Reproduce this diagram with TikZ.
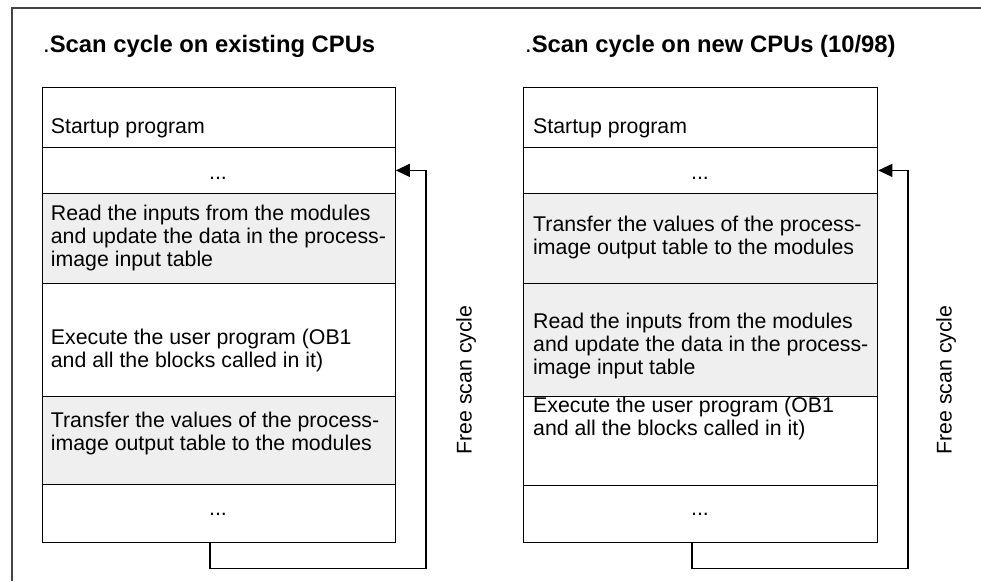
\documentclass[tikz,border=0pt]{standalone}
\usepackage{fontspec}
\setmainfont{Liberation Sans}
\usetikzlibrary{arrows.meta}
\definecolor{boxgray}{HTML}{EFEFEF}
\definecolor{framegray}{HTML}{454545}
\newcommand{\bodyfont}{\fontsize{21.3}{23.3}\selectfont}
\newcommand{\titlefont}{\fontsize{23.8}{27}\selectfont}
\begin{document}
\begin{tikzpicture}[x=1pt,y=-1pt,
  cell/.style={rectangle, draw=black, line width=1.3pt, inner sep=0pt, anchor=north west, fill=white},
  graycell/.style={cell, fill=boxgray},
  txt/.style={anchor=base west, inner sep=0pt, font=\bodyfont},
  dots/.style={anchor=base, inner sep=0pt, font=\bodyfont},
  ttl/.style={anchor=base west, inner sep=0pt, font=\titlefont},
  looppath/.style={draw=black, line width=1.2pt, -{Triangle[length=14pt,width=13pt]}},
  vlabel/.style={rotate=90, inner sep=0pt, font=\bodyfont},
  frame/.style={draw=framegray, line width=1.8pt}]
\useasboundingbox (0,0) rectangle (981,581);
\draw[frame] (981,8) -- (12,8) -- (12,581);

% titles
\node[ttl] (t1) at (43,52) {.\textbf{Scan cycle on existing CPUs}};
\node[ttl] (t2) at (525,52) {.\textbf{Scan cycle on new CPUs (10/98)}};

% left column
\node[cell, minimum width=353pt, minimum height=60pt] (L1) at (41.5,87) {};
\node[cell, minimum width=353pt, minimum height=45.5pt] (L2) at (41.5,147) {};
\node[graycell, minimum width=353pt, minimum height=90.5pt] (L3) at (41.5,192.5) {};
\node[cell, minimum width=353pt, minimum height=113pt] (L4) at (41.5,283) {};
\node[graycell, minimum width=353pt, minimum height=88pt] (L5) at (41.5,396) {};
\node[cell, minimum width=353pt, minimum height=58pt] (L6) at (41.5,484) {};

\node[txt] (l1t) at (50.7,133) {Startup program};
\node[dots] (l2t) at (218,179.5) {...};
\node[txt] (l3t) at (50.7,220) {\parbox[t]{340pt}{\bodyfont Read the inputs from the modules\\and update the data in the process-\\image input table}};
\node[txt] (l4t) at (50.7,344) {\parbox[t]{340pt}{\bodyfont Execute the user program (OB1\\and all the blocks called in it)}};
\node[txt] (l5t) at (50.7,427) {\parbox[t]{340pt}{\bodyfont Transfer the values of the process-\\image output table to the modules}};
\node[dots] (l6t) at (218,515.5) {...};

% right column
\node[cell, minimum width=354pt, minimum height=60pt] (R1) at (523,87) {};
\node[cell, minimum width=354pt, minimum height=45.5pt] (R2) at (523,147) {};
\node[graycell, minimum width=354pt, minimum height=90.5pt] (R3) at (523,192.5) {};
\node[graycell, minimum width=354pt, minimum height=113pt] (R4) at (523,283) {};
\node[cell, minimum width=354pt, minimum height=89pt] (R5) at (523,396) {};
\node[cell, minimum width=354pt, minimum height=57pt] (R6) at (523,485) {};

\node[txt] (r1t) at (533,133) {Startup program};
\node[dots] (r2t) at (700,179.5) {...};
\node[txt] (r3t) at (533,231.5) {\parbox[t]{340pt}{\bodyfont Transfer the values of the process-\\image output table to the modules}};
\node[txt] (r4t) at (533,328) {\parbox[t]{340pt}{\bodyfont Read the inputs from the modules\\and update the data in the process-\\image input table}};
\node[txt] (r5t) at (533,412) {\parbox[t]{340pt}{\bodyfont Execute the user program (OB1\\and all the blocks called in it)}};
\node[dots] (r6t) at (700,515.5) {...};

% loops
\coordinate (lx) at (210,568.5);
\coordinate (lr) at (426,568.5);
\draw[looppath] (L6.south -| lx) -- (lx) -- (lr) |- (L2.east);
\coordinate (rx) at (692,568.5);
\coordinate (rr) at (908,568.5);
\draw[looppath] (R6.south -| rx) -- (rx) -- (rr) |- (R2.east);

\node[vlabel] (fl) at (466,380) {Free scan cycle};
\node[vlabel] (fr) at (946,380) {Free scan cycle};
\end{tikzpicture}
\end{document}
